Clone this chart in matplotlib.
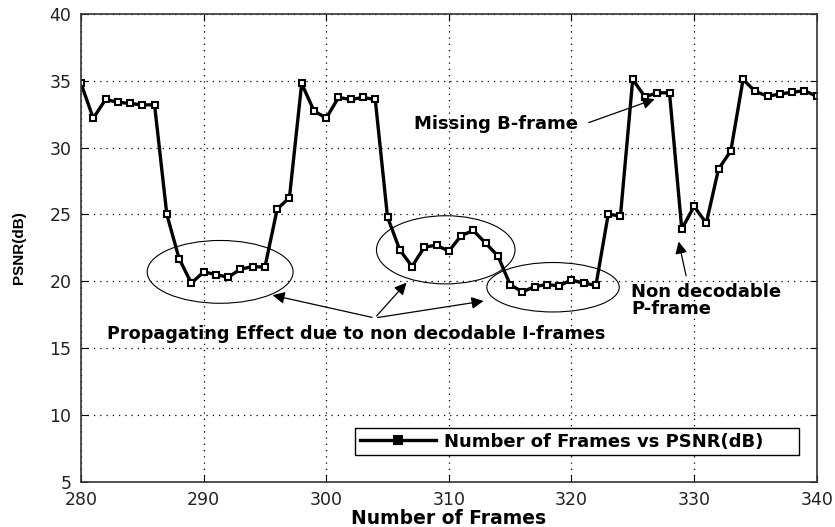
import matplotlib.pyplot as plt
from matplotlib.patches import Ellipse
import numpy as np

plt.rcParams['font.family'] = ['DejaVu Sans']

# PSNR per frame
frames = np.arange(280, 341)
psnr = [34.8, 32.2, 33.6, 33.4, 33.3, 33.2, 33.2, 25.0, 21.7, 19.85,
        20.7, 20.5, 20.3, 20.9, 21.1, 21.05, 25.4, 26.25, 34.8, 32.75,
        32.2, 33.75, 33.6, 33.75, 33.6, 24.8, 22.35, 21.1, 22.55, 22.7,
        22.25, 23.4, 23.8, 22.85, 21.9, 19.75, 19.2, 19.6, 19.75, 19.65,
        20.1, 19.85, 19.7, 25.0, 24.9, 35.1, 33.8, 34.1, 34.1, 23.9,
        25.6, 24.35, 28.4, 29.75, 35.1, 34.2, 33.85, 34.0, 34.15, 34.25,
        33.85]

xticks = [280, 290, 300, 310, 320, 330, 340]
yticks = [5, 10, 15, 20, 25, 30, 35, 40]

# ellipses: (center x, center y, width, height)
ellipses = [(291.35, 20.7, 11.9, 4.7),
            (309.75, 22.35, 11.3, 5.1),
            (318.5, 19.55, 10.8, 3.7)]

fig = plt.figure(figsize=(8.35, 5.27), dpi=100)
ax = fig.add_axes([0.097, 0.0860, 0.881, 0.8875])

ax.plot(frames, psnr, '-s', color='black', lw=2.4, ms=4.5,
        mfc='white', mec='black', mew=1.5,
        label='Number of Frames vs PSNR(dB)     ')

for cx, cy, w, h in ellipses:
    ax.add_patch(Ellipse((cx, cy), w, h, fill=False, ec='black', lw=0.8))

ax.set_xlim(280, 340)
ax.set_ylim(5, 40)
ax.set_xticks(xticks)
ax.set_yticks(yticks)
ax.tick_params(direction='in', top=True, right=True, labelsize=12.5,
               length=5, pad=7, labelcolor='#222222')
ax.grid(True, linestyle=(0, (1, 4)), color='black', lw=0.9)
for s in ax.spines.values():
    s.set_linewidth(1.2)
    s.set_color('#333333')

ax.set_xlabel('Number of Frames', fontweight='bold', fontsize=13.5, labelpad=0)
ax.set_ylabel('PSNR(dB)', fontweight='bold', fontsize=11, labelpad=17,
              family='Liberation Sans')

# annotations
arr = dict(arrowstyle='-|>', color='black', lw=0.9, mutation_scale=18)
txt = dict(fontweight='bold', fontsize=13, ha='left')
ax.text(282.1, 16.07, 'Propagating Effect due to non decodable I-frames',
        va='center', fontweight='bold', fontsize=12.7, ha='left')
for tx, ty in [(295.4, 19.0), (306.7, 20.05), (313.06, 18.55)]:
    ax.annotate('', xy=(tx, ty), xytext=(303.96, 17.25), arrowprops=arr)

ax.text(307.2, 31.8, 'Missing B-frame', va='center', **txt)
ax.annotate('', xy=(327.0, 33.7), xytext=(321.2, 31.8), arrowprops=arr)

ax.text(324.9, 18.55, 'Non decodable\nP-frame', va='center',
        linespacing=0.95, **txt)
ax.annotate('', xy=(328.7, 23.17), xytext=(329.4, 20.2), arrowprops=arr)

leg = ax.legend(loc='lower right', bbox_to_anchor=(0.976, 0.057),
                borderaxespad=0, prop={'weight': 'bold', 'size': 13},
                fancybox=False, framealpha=1, edgecolor='black',
                handlelength=4.2, borderpad=0.25, handletextpad=0.45)
leg.get_frame().set_linewidth(1.0)
leg.legend_handles[0].set_markerfacecolor('black')
leg.legend_handles[0].set_markersize(5.5)

fig.savefig('out.png', dpi=100)
